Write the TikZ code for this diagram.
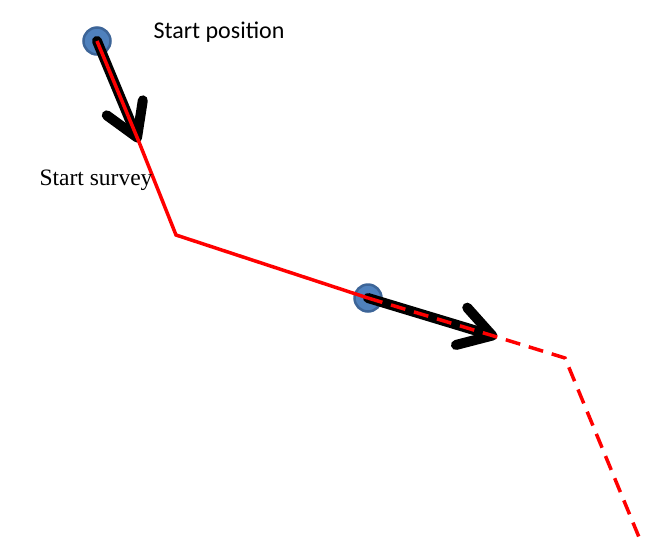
\documentclass[tikz,border=0pt]{standalone}
\usepackage{fontspec}
\setmainfont{Liberation Serif}
\newfontfamily\calibri{Carlito}
\usetikzlibrary{arrows.meta}
\definecolor{dotblue}{HTML}{4F81BD}
\definecolor{dotedge}{HTML}{3D6598}

\begin{document}
\begin{tikzpicture}[x=1pt, y=-1pt,
    >={Straight Barb[round, length=32pt, width=39pt]},
    dot/.style={circle, fill=dotblue, draw=dotedge, line width=2.5pt, minimum size=27pt, inner sep=0pt},
    heading/.style={line width=10pt, ->, line cap=round, line join=round},
    track/.style={red, line width=3.5pt}]
    \useasboundingbox (0,0) rectangle (671,558);

    % positions of the vessel, then the bends of the survey line
    \node[dot] (start) at (97,41) {};
    \node[dot] (now) at (368,298) {};
    \coordinate (survey) at (139,142);
    \coordinate (bend1) at (176,235);
    \coordinate (ahead) at (497,337);
    \coordinate (bend2) at (565,358);
    \coordinate (last) at (641,542);

    \draw[heading] (start.center) -- (survey);
    \draw[heading] (now.center) -- (ahead);

    \draw[track] (start.center) -- (survey) -- (bend1) -- (now.center);
    \draw[track, dash pattern=on 15pt off 9pt] (now.center) -- (ahead) -- (bend2) -- (last);

    \node[font=\calibri\fontsize{24}{26}\selectfont] (startlbl) at (219,32) {Start position};
    \node[font=\fontsize{23.5}{25}\selectfont] (surveylbl) at (96,180) {Start survey};
\end{tikzpicture}
\end{document}
